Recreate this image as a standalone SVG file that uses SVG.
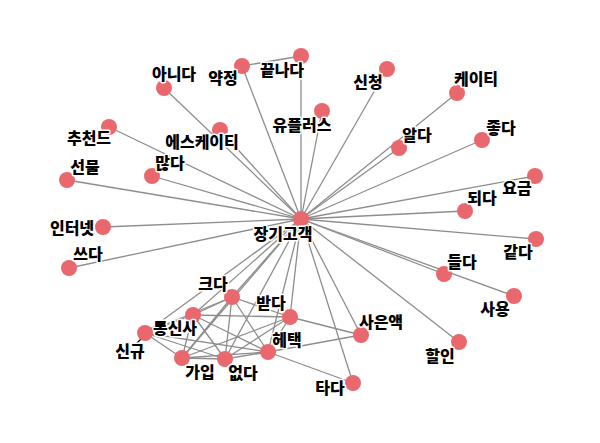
<svg xmlns="http://www.w3.org/2000/svg" width="600" height="443" viewBox="0 0 600 443">
<style>
.e{stroke:#8d8d8d;stroke-width:1.3;fill:none}
.n circle{fill:#e9686e}
.n text{font-family:"Noto Sans CJK KR","Noto Sans",sans-serif;font-weight:900;font-size:16px;fill:#000;stroke:#fff;stroke-width:3;paint-order:stroke;stroke-linejoin:round;text-anchor:middle}
</style>
<rect width="600" height="443" fill="#fff"/>
<g id="edges">
<line class="e" x1="301" y1="219" x2="301" y2="56"/>
<line class="e" x1="301" y1="219" x2="242" y2="66"/>
<line class="e" x1="242" y1="66" x2="301" y2="56"/>
<line class="e" x1="301" y1="219" x2="164" y2="88"/>
<line class="e" x1="301" y1="219" x2="220" y2="130"/>
<line class="e" x1="301" y1="219" x2="109" y2="127"/>
<line class="e" x1="301" y1="219" x2="152" y2="176"/>
<line class="e" x1="301" y1="219" x2="67" y2="180"/>
<line class="e" x1="301" y1="219" x2="103" y2="227"/>
<line class="e" x1="301" y1="219" x2="69" y2="268"/>
<line class="e" x1="301" y1="219" x2="322" y2="111"/>
<line class="e" x1="301" y1="219" x2="387" y2="69"/>
<line class="e" x1="301" y1="219" x2="457" y2="93"/>
<line class="e" x1="301" y1="219" x2="399" y2="148"/>
<line class="e" x1="301" y1="219" x2="482" y2="140"/>
<line class="e" x1="301" y1="219" x2="535" y2="176"/>
<line class="e" x1="301" y1="219" x2="465" y2="211"/>
<line class="e" x1="301" y1="219" x2="536" y2="239"/>
<line class="e" x1="301" y1="219" x2="444" y2="274"/>
<line class="e" x1="301" y1="219" x2="514" y2="296"/>
<line class="e" x1="301" y1="219" x2="361" y2="335"/>
<line class="e" x1="301" y1="219" x2="459" y2="342"/>
<line class="e" x1="301" y1="219" x2="353" y2="383"/>
<line class="e" x1="301" y1="219" x2="232" y2="297"/>
<line class="e" x1="301" y1="219" x2="193" y2="315"/>
<line class="e" x1="301" y1="219" x2="290" y2="317"/>
<line class="e" x1="301" y1="219" x2="145" y2="333"/>
<line class="e" x1="301" y1="219" x2="268" y2="352"/>
<line class="e" x1="301" y1="219" x2="182" y2="358"/>
<line class="e" x1="301" y1="219" x2="225" y2="359"/>
<line class="e" x1="232" y1="297" x2="193" y2="315"/>
<line class="e" x1="232" y1="297" x2="290" y2="317"/>
<line class="e" x1="232" y1="297" x2="268" y2="352"/>
<line class="e" x1="232" y1="297" x2="182" y2="358"/>
<line class="e" x1="232" y1="297" x2="225" y2="359"/>
<line class="e" x1="232" y1="297" x2="145" y2="333"/>
<line class="e" x1="193" y1="315" x2="290" y2="317"/>
<line class="e" x1="193" y1="315" x2="268" y2="352"/>
<line class="e" x1="193" y1="315" x2="182" y2="358"/>
<line class="e" x1="193" y1="315" x2="225" y2="359"/>
<line class="e" x1="193" y1="315" x2="145" y2="333"/>
<line class="e" x1="145" y1="333" x2="182" y2="358"/>
<line class="e" x1="145" y1="333" x2="225" y2="359"/>
<line class="e" x1="145" y1="333" x2="268" y2="352"/>
<line class="e" x1="182" y1="358" x2="225" y2="359"/>
<line class="e" x1="182" y1="358" x2="290" y2="317"/>
<line class="e" x1="182" y1="358" x2="268" y2="352"/>
<line class="e" x1="225" y1="359" x2="290" y2="317"/>
<line class="e" x1="225" y1="359" x2="268" y2="352"/>
<line class="e" x1="290" y1="317" x2="268" y2="352"/>
<line class="e" x1="290" y1="317" x2="361" y2="335"/>
<line class="e" x1="268" y1="352" x2="361" y2="335"/>
<line class="e" x1="268" y1="352" x2="353" y2="383"/>
<line x1="136" y1="344" x2="143" y2="337" stroke="#000" stroke-width="1.2"/>
</g>
<g id="n-hub" class="n"><circle cx="301" cy="219" r="8"/><text x="283" y="240">장기고객</text></g>
<g id="n-kkeutnada" class="n"><circle cx="301" cy="56" r="8"/><text x="282" y="76">끝나다</text></g>
<g id="n-yakjeong" class="n"><circle cx="242" cy="66" r="8"/><text x="223" y="84">약정</text></g>
<g id="n-anida" class="n"><circle cx="164" cy="88" r="8"/><text x="174" y="80">아니다</text></g>
<g id="n-skt" class="n"><circle cx="220" cy="130" r="8"/><text x="202" y="148">에스케이티</text></g>
<g id="n-chucheon" class="n"><circle cx="109" cy="127" r="8"/><text x="89" y="144">추천드</text></g>
<g id="n-manta" class="n"><circle cx="152" cy="176" r="8"/><text x="170" y="169">많다</text></g>
<g id="n-seonmul" class="n"><circle cx="67" cy="180" r="8"/><text x="85" y="173">선물</text></g>
<g id="n-internet" class="n"><circle cx="103" cy="227" r="8"/><text x="72" y="234">인터넷</text></g>
<g id="n-sseuda" class="n"><circle cx="69" cy="268" r="8"/><text x="88" y="260">쓰다</text></g>
<g id="n-uplus" class="n"><circle cx="322" cy="111" r="8"/><text x="302" y="131">유플러스</text></g>
<g id="n-sincheong" class="n"><circle cx="387" cy="69" r="8"/><text x="368" y="88">신청</text></g>
<g id="n-kt" class="n"><circle cx="457" cy="93" r="8"/><text x="476" y="85">케이티</text></g>
<g id="n-alda" class="n"><circle cx="399" cy="148" r="8"/><text x="417" y="141">알다</text></g>
<g id="n-jota" class="n"><circle cx="482" cy="140" r="8"/><text x="501" y="134">좋다</text></g>
<g id="n-yogeum" class="n"><circle cx="535" cy="176" r="8"/><text x="517" y="194">요금</text></g>
<g id="n-doeda" class="n"><circle cx="465" cy="211" r="8"/><text x="482" y="204">되다</text></g>
<g id="n-gatda" class="n"><circle cx="536" cy="239" r="8"/><text x="518" y="258">같다</text></g>
<g id="n-deulda" class="n"><circle cx="444" cy="274" r="8"/><text x="462" y="268">들다</text></g>
<g id="n-sayong" class="n"><circle cx="514" cy="296" r="8"/><text x="495" y="315">사용</text></g>
<g id="n-saeunaek" class="n"><circle cx="361" cy="335" r="8"/><text x="381" y="328">사은액</text></g>
<g id="n-halin" class="n"><circle cx="459" cy="342" r="8"/><text x="440" y="362">할인</text></g>
<g id="n-tada" class="n"><circle cx="353" cy="383" r="8"/><text x="330" y="394">타다</text></g>
<g id="n-keuda" class="n"><circle cx="232" cy="297" r="8"/><text x="213" y="290">크다</text></g>
<g id="n-batda" class="n"><circle cx="290" cy="317" r="8"/><text x="271" y="309">받다</text></g>
<g id="n-tongsinsa" class="n"><circle cx="193" cy="315" r="8"/><text x="175" y="334">통신사</text></g>
<g id="n-singyu" class="n"><circle cx="145" cy="333" r="8"/><text x="130" y="357">신규</text></g>
<g id="n-hyetaek" class="n"><circle cx="268" cy="352" r="8"/><text x="287" y="346">헤택</text></g>
<g id="n-gaip" class="n"><circle cx="182" cy="358" r="8"/><text x="200" y="378">가입</text></g>
<g id="n-eopda" class="n"><circle cx="225" cy="359" r="8"/><text x="243" y="379">없다</text></g>
</svg>
